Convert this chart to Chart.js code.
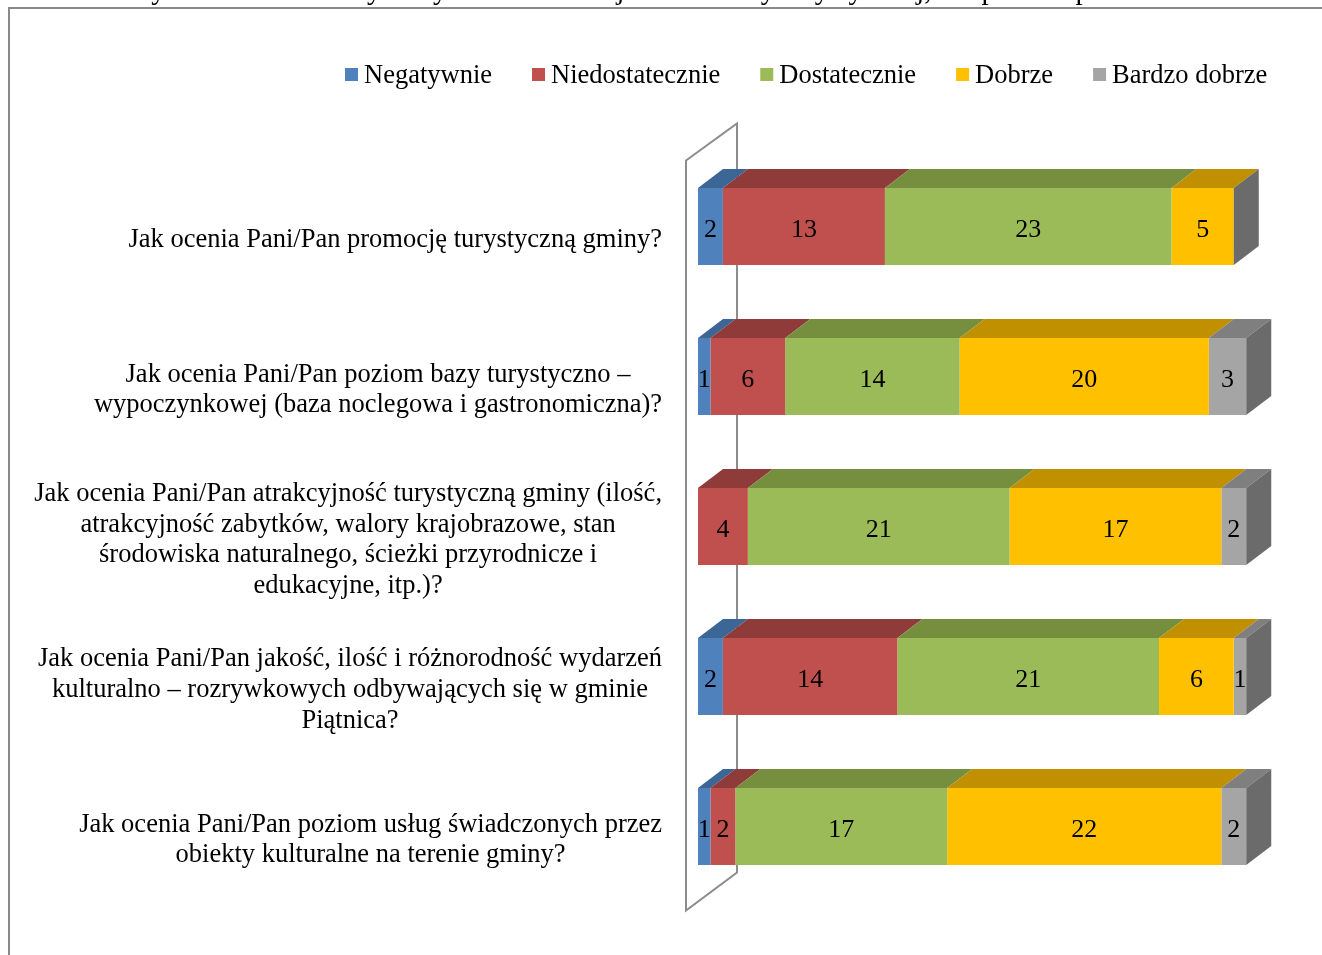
<!DOCTYPE html>
<html>
<head>
<meta charset="utf-8">
<script src="https://cdn.jsdelivr.net/npm/chart.js@4.4.1/dist/chart.umd.min.js"></script>
<style>
  body { margin: 0; background: #fff; }
  #wrap { width: 1322px; height: 955px; position: relative; }
</style>
</head>
<body>
<div id="wrap"><canvas id="chart"></canvas></div>
<script>
// pytania (kategorie)
const categories = [
  ["Jak ocenia Pani/Pan promocję turystyczną gminy?"],
  ["Jak ocenia Pani/Pan poziom bazy turystyczno –", "wypoczynkowej (baza noclegowa i gastronomiczna)?"],
  ["Jak ocenia Pani/Pan atrakcyjność turystyczną gminy (ilość,", "atrakcyjność zabytków, walory krajobrazowe, stan", "środowiska naturalnego, ścieżki przyrodnicze i", "edukacyjne, itp.)?"],
  ["Jak ocenia Pani/Pan jakość, ilość i różnorodność wydarzeń", "kulturalno – rozrywkowych odbywających się w gminie", "Piątnica?"],
  ["Jak ocenia Pani/Pan poziom usług świadczonych przez", "obiekty kulturalne na terenie gminy?"]
];

const seriesNames = ["Negatywnie", "Niedostatecznie", "Dostatecznie", "Dobrze", "Bardzo dobrze"];
const negatywnie = [2, 1, 0, 2, 1];
const niedostatecznie = [13, 6, 4, 14, 2];
const dostatecznie = [23, 14, 21, 21, 17];
const dobrze = [5, 20, 17, 6, 22];
const bardzoDobrze = [0, 3, 2, 1, 2];

const frontColors = ["#4F81BD", "#C0504D", "#9BBB59", "#FFC000", "#A5A5A5"];
const topColors = ["#3C6695", "#8E3B39", "#768F3F", "#C09000", "#7F7F7F"];
const sideColor = "#6B6B6B";

const caption = "Wykres 14. Ocena wybranych elementów jakości oferty turystycznej, w opinii respondentów";
const SERIF = "'Liberation Serif', 'Times New Roman', serif";
const DX = 25, DY = 19; // glebokosc 3D

const values = [negatywnie, niedostatecznie, dostatecznie, dobrze, bardzoDobrze];

// ramka, podpis u gory, sciana 3D
const backgroundPlugin = {
  id: "background",
  beforeDraw(chart) {
    const ctx = chart.ctx;
    ctx.save();
    ctx.fillStyle = "#fff";
    ctx.fillRect(0, 0, chart.width, chart.height);
    ctx.fillStyle = "#000";
    ctx.font = "29px " + SERIF;
    ctx.textAlign = "center";
    ctx.textBaseline = "alphabetic";
    ctx.fillText(caption, 665, -1);
    ctx.strokeStyle = "#8A8A8A";
    ctx.lineWidth = 2;
    ctx.beginPath();
    ctx.moveTo(9, chart.height);
    ctx.lineTo(9, 8);
    ctx.lineTo(chart.width, 8);
    ctx.stroke();
    ctx.restore();
  },
  beforeDatasetsDraw(chart) {
    const ctx = chart.ctx;
    const area = chart.chartArea;
    ctx.save();
    ctx.strokeStyle = "#8C8C8C";
    ctx.lineWidth = 2;
    const fx = area.left - 12, bx = fx + 51;
    ctx.beginPath();
    ctx.moveTo(fx, area.top + 9);
    ctx.lineTo(bx, area.top - 28);
    ctx.lineTo(bx, area.bottom - 29);
    ctx.lineTo(fx, area.bottom + 9);
    ctx.closePath();
    ctx.stroke();
    ctx.restore();
  }
};

// sciany gorne i boczne, etykiety danych, pytania, legenda
const decorPlugin = {
  id: "decor",
  afterDatasetsDraw(chart) {
    const ctx = chart.ctx;
    ctx.save();
    const n = chart.data.datasets.length;
    for (let d = 0; d < n; d++) {
      const meta = chart.getDatasetMeta(d);
      meta.data.forEach((bar) => {
        const p = bar.getProps(["x", "y", "base", "height"], true);
        const x1 = Math.min(p.base, p.x), x2 = Math.max(p.base, p.x);
        const top = p.y - p.height / 2;
        ctx.fillStyle = topColors[d];
        ctx.beginPath();
        ctx.moveTo(x1, top);
        ctx.lineTo(x2, top);
        ctx.lineTo(x2 + DX, top - DY);
        ctx.lineTo(x1 + DX, top - DY);
        ctx.closePath();
        ctx.fill();
        if (d === n - 1) {
          const bottom = p.y + p.height / 2;
          ctx.fillStyle = sideColor;
          ctx.beginPath();
          ctx.moveTo(x2, top);
          ctx.lineTo(x2 + DX, top - DY);
          ctx.lineTo(x2 + DX, bottom - DY);
          ctx.lineTo(x2, bottom);
          ctx.closePath();
          ctx.fill();
        }
      });
    }
    // etykiety danych
    ctx.fillStyle = "#000";
    ctx.font = "26px " + SERIF;
    ctx.textAlign = "center";
    ctx.textBaseline = "middle";
    for (let d = 0; d < n; d++) {
      const meta = chart.getDatasetMeta(d);
      meta.data.forEach((bar, i) => {
        const v = chart.data.datasets[d].data[i];
        if (!v) return;
        const p = bar.getProps(["x", "y", "base"], true);
        ctx.fillText(String(v), (p.x + p.base) / 2, p.y + 4);
      });
    }
    // pytania po lewej
    const yScale = chart.scales.y;
    ctx.font = "26.5px " + SERIF;
    categories.forEach((lines, i) => {
      const cy = yScale.getPixelForValue(i) + 13.5;
      const w = Math.max(...lines.map((l) => ctx.measureText(l).width));
      const cx = 662 - w / 2;
      const lh = 30.7;
      lines.forEach((l, k) => {
        ctx.fillText(l, cx, cy + (k - (lines.length - 1) / 2) * lh);
      });
    });
    // legenda
    ctx.font = "26.5px " + SERIF;
    ctx.textAlign = "left";
    let lx = 345;
    chart.data.datasets.forEach((ds, d) => {
      ctx.fillStyle = frontColors[d];
      ctx.fillRect(lx, 68, 13, 13);
      ctx.fillStyle = "#000";
      ctx.fillText(ds.label, lx + 19, 76);
      lx += 19 + ctx.measureText(ds.label).width + 40;
    });
    ctx.restore();
  }
};

new Chart(document.getElementById("chart"), {
  type: "bar",
  data: {
    labels: categories,
    datasets: values.map((vals, d) => ({
      label: seriesNames[d],
      data: vals,
      backgroundColor: frontColors[d],
      borderWidth: 0,
      categoryPercentage: 1,
      barPercentage: 0.513
    }))
  },
  options: {
    indexAxis: "y",
    responsive: true,
    maintainAspectRatio: false,
    animation: false,
    layout: { padding: { left: 698, right: 1, top: 151.5, bottom: 53.5 } },
    scales: {
      x: { stacked: true, min: 0, max: 50, display: false },
      y: { stacked: true, display: false }
    },
    plugins: {
      legend: { display: false },
      tooltip: { enabled: false }
    }
  },
  plugins: [backgroundPlugin, decorPlugin]
});
</script>
</body>
</html>
